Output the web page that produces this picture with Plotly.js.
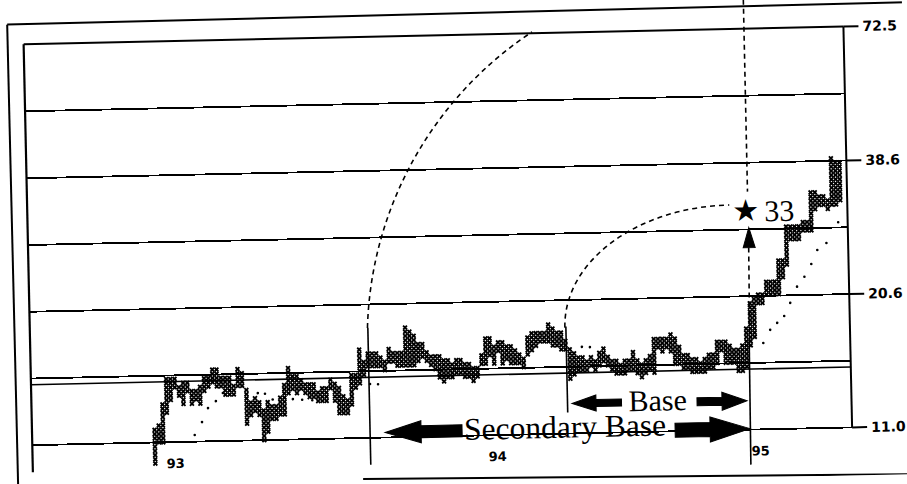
<!DOCTYPE html>
<html><head><meta charset="utf-8">
<script src="https://cdn.plot.ly/plotly-3.0.1.min.js"></script>
<style>
html,body{margin:0;padding:0;background:#fff;overflow:hidden;width:907px;height:484px}
#chart{width:907px;height:484px;transform:rotate(-1.24deg);transform-origin:453.5px 242px}
</style></head><body><div id="chart"></div>
<script>
// ---- data (point & figure columns, 2% boxes, prices) ----
const colLow = [9.96,11.00,11.00,12.64,13.41,14.23,13.68,13.15,13.95,13.15,13.41,13.15,13.95,14.23,14.51,14.23,14.23,13.68,13.68,13.68,
14.23,14.23,11.91,12.39,12.64,12.39,11.00,11.44,12.14,12.14,12.39,12.39,13.68,13.95,13.68,13.95,13.68,13.41,13.41,13.15,
13.15,13.15,13.95,13.15,12.39,12.39,12.39,12.89,13.95,14.23,14.80,15.40,15.40,15.40,15.40,15.10,15.71,15.71,15.40,15.40,
15.40,15.40,15.40,15.71,16.02,15.71,15.40,15.10,14.51,14.23,14.51,14.51,14.80,14.80,14.51,14.51,14.23,14.51,15.40,15.40,
16.02,15.40,16.35,15.40,15.71,15.40,15.40,15.40,15.10,16.02,16.35,16.67,17.01,17.01,17.01,16.67,16.67,16.35,16.35,14.23,
14.51,14.80,14.80,14.80,15.10,14.80,15.10,15.40,15.10,14.80,14.51,14.51,14.51,14.80,14.80,14.51,14.23,14.51,14.80,14.51,
16.35,16.02,16.35,16.02,15.10,15.10,14.80,14.80,14.51,14.51,14.51,14.51,14.80,14.80,15.10,16.02,15.10,15.10,15.10,14.51,
14.51,14.80,16.35,17.01,19.93,19.93,20.73,20.73,20.73,20.73,22.44,23.81,26.82,26.82,26.82,27.90,27.90,27.90,30.80,31.42,
31.42,30.80,31.42,31.42,32.05];
const colHigh = [11.67,11.91,13.15,14.80,14.80,14.80,14.23,14.51,14.51,13.95,13.95,14.23,14.80,14.80,15.40,15.40,14.80,14.80,14.80,14.23,
15.40,15.10,13.95,13.15,13.41,13.15,12.64,13.15,12.89,12.89,13.41,14.23,15.40,14.80,14.80,14.51,14.23,14.23,14.23,13.68,
13.95,13.95,14.51,14.23,13.95,13.41,13.15,14.80,14.80,16.67,15.71,16.35,16.35,16.35,16.02,15.71,16.67,16.35,16.35,16.35,
18.41,18.05,17.69,17.01,17.01,16.35,16.02,16.02,16.02,15.71,15.71,15.40,15.71,15.71,15.40,15.40,15.10,15.10,16.02,17.35,
17.35,16.67,17.01,17.01,16.67,16.67,16.35,16.02,15.71,17.35,17.69,17.69,17.69,17.69,18.41,18.05,17.69,17.69,17.01,16.35,
16.02,15.71,15.71,15.40,15.71,15.40,16.02,16.35,15.71,15.40,15.40,15.10,15.40,15.40,16.02,15.40,15.10,15.40,15.71,17.01,
17.01,17.01,17.01,17.35,17.01,16.35,15.71,15.71,15.40,15.40,15.10,15.40,15.71,15.71,16.67,16.67,16.67,16.35,16.02,16.02,
16.35,17.69,19.93,20.32,20.73,20.73,22.00,22.00,22.00,24.29,24.29,28.46,28.46,28.46,28.46,29.03,29.03,33.34,33.34,32.69,
32.69,32.05,39.07,38.30,38.30];
// dotted trend points (column number, price)
const trendCol = [9.5,11.3,12.8,14.7,16.4,24.7,26.4,28.2,33.0,35.2,37.6,51.4,53.3,101.9,103.8,
145.0,146.7,148.4,150.1,151.6,153.3,155.1,156.8,158.3,160.5,163.4];
const trendPrice = [11.35,12.05,12.86,13.28,13.79,13.73,13.68,13.30,13.30,13.25,13.20,14.17,14.14,16.51,16.48,
16.51,17.55,18.12,18.70,19.88,21.44,22.44,23.81,25.42,26.24,28.91];
const yearLabels = ['93','94','95'];
const yearCol = [4.8, 81.3, 143.7];
const scaleTicks = [11.0, 20.6, 38.6, 72.5];
const scaleTickText = ['11.0','20.6','38.6','72.5'];
const halfGrid = [15.05, 28.2, 52.9];
const baseLevel = 14.62;
const boxBase = 11.0, boxPct = 0.02;
const countTarget = '33';

// ---- geometry (pixels of the unrotated page) ----
const L=28, R=848, T=35, B=463;
const colPx0 = 150.6, colW = 4.21;
const xRange = [(L-colPx0)/colW, (R-colPx0)/colW];
const lpp = (Math.log10(72.5)-Math.log10(11))/(436-T);
const yRange = [Math.log10(11) - (B-436)*lpp, Math.log10(72.5)];
const px = x => (x-L)/(R-L);
const py = y => (B-y)/(B-T);
const levelPx = v => B - (Math.log10(v)-yRange[0])/(yRange[1]-yRange[0])*(B-T);

// expand columns into boxes
const xs=[], ys=[];
for (let i=0;i<colLow.length;i++){
  const k0 = Math.round(Math.log(colLow[i]/boxBase)/Math.log(1+boxPct));
  const k1 = Math.round(Math.log(colHigh[i]/boxBase)/Math.log(1+boxPct));
  for (let k=k0;k<=k1;k++){ xs.push(i); ys.push(boxBase*Math.pow(1+boxPct,k)); }
}

const shapes = [];
function line(x0,y0,x1,y1,w,dash){
  shapes.push({type:'line',xref:'paper',yref:'paper',x0:px(x0),y0:py(y0),x1:px(x1),y1:py(y1),
    line:{color:'#000',width:w||2,dash:dash||'solid'},layer:'above'});
}
function poly(pts){
  let d='M '+pts.map(p=>px(p[0]).toFixed(5)+','+py(p[1]).toFixed(5)).join(' L ')+' Z';
  shapes.push({type:'path',xref:'paper',yref:'paper',path:d,fillcolor:'#000',line:{color:'#000',width:1},layer:'above'});
}
function curve(p0,c1,c2,p1,dash){
  const f=p=>px(p[0]).toFixed(5)+','+py(p[1]).toFixed(5);
  shapes.push({type:'path',xref:'paper',yref:'paper',path:'M '+f(p0)+' C '+f(c1)+' '+f(c2)+' '+f(p1),
    line:{color:'#000',width:1.6,dash:dash},layer:'above'});
}
function arrowL(tip,y,tail,hl,hh,sh){
  poly([[tip,y],[tip+hl,y-hh],[tip+hl,y-sh],[tail,y-sh],[tail,y+sh],[tip+hl,y+sh],[tip+hl,y+hh]]);
}
function arrowR(tip,y,tail,hl,hh,sh){
  poly([[tip,y],[tip-hl,y-hh],[tip-hl,y-sh],[tail,y-sh],[tail,y+sh],[tip-hl,y+sh],[tip-hl,y+hh]]);
}
// frames
line(12,15,13,490,2); line(12,15,910,12,2);
line(L,T,L,B,2.2);
line(L,T,R,T,2);
line(R,T,R,levelPx(11),2);
scaleTicks.forEach(v=>line(R,levelPx(v),R+15,levelPx(v),2));
line(L,levelPx(baseLevel),R,levelPx(baseLevel),1.6);
line(358,477,910,484,2);
// study lines
const D='5px,4px';
line(366,326,366,463,1.6);
line(564,329,564,415,1.6);
line(747,346,746,471,1.6);
line(748.5,254,747.5,346,1.6,D);
line(748.5,6,748.5,198,1.6,D);
poly([[749,234],[743,254],[755,254]]);
curve([365.6,326.1],[371.4,206.6],[435.3,97.4],[536.5,33.7],D);
curve([563,330],[563,263],[639,211],[730,211],D);
arrowL(568.5,406,618,24,8,3.5);
arrowR(743.5,407,693.5,25,9,4);
arrowL(381,431,458,36,11,6);
arrowR(746,435,671,40,12.5,7);

const serif='"Liberation Serif","Times New Roman",serif';
const annotations = [
  {xref:'paper',yref:'paper',x:px(653.6),y:py(404.9),text:'Base',showarrow:false,font:{family:serif,size:30,color:'#000'},xanchor:'center',yanchor:'middle'},
  {xref:'paper',yref:'paper',x:px(561),y:py(429.4),text:'Secondary Base',showarrow:false,font:{family:serif,size:31.5,color:'#000'},xanchor:'center',yanchor:'middle'},
  {xref:'paper',yref:'paper',x:px(746.2),y:py(216.3),text:'★',showarrow:false,font:{family:'DejaVu Sans',size:30,color:'#000'},xanchor:'center',yanchor:'middle'},
  {xref:'paper',yref:'paper',x:px(779.7),y:py(217),text:countTarget,showarrow:false,font:{family:serif,size:30,color:'#000'},xanchor:'center',yanchor:'middle'}
];
yearLabels.forEach((t,i)=>annotations.push({xref:'x',yref:'paper',x:yearCol[i],y:py(457),text:t,showarrow:false,
  font:{family:'DejaVu Sans',size:13,weight:'bold',color:'#000'},xanchor:'center',yanchor:'middle'}));

const allTicks = scaleTicks.concat(halfGrid).sort((a,b)=>a-b);
const allText = allTicks.map(v=>{const j=scaleTicks.indexOf(v);return j>=0?scaleTickText[j]:'';});

Plotly.newPlot('chart',[
  {type:'scatter',mode:'markers',x:xs,y:ys,marker:{symbol:'x',size:4.6,color:'#000',line:{width:0}},cliponaxis:false,hoverinfo:'skip'},
  {type:'scatter',mode:'markers',x:trendCol,y:trendPrice,marker:{symbol:'circle',size:2.6,color:'#000'},hoverinfo:'skip'}
],{
  width:907,height:484,margin:{l:L,r:907-R,t:T,b:484-B,pad:0},
  paper_bgcolor:'#fff',plot_bgcolor:'#fff',showlegend:false,hovermode:false,
  xaxis:{range:xRange,showgrid:false,zeroline:false,showticklabels:false,ticks:'',showline:false},
  yaxis:{type:'log',range:yRange,side:'right',tickvals:allTicks,ticktext:allText,showgrid:true,gridcolor:'#000',gridwidth:1.8,
    ticks:'',showline:false,zeroline:false,ticklabelstandoff:18,
    tickfont:{family:'DejaVu Sans',size:14,weight:'bold',color:'#000'}},
  shapes:shapes,annotations:annotations
},{staticPlot:true});
</script></body></html>
